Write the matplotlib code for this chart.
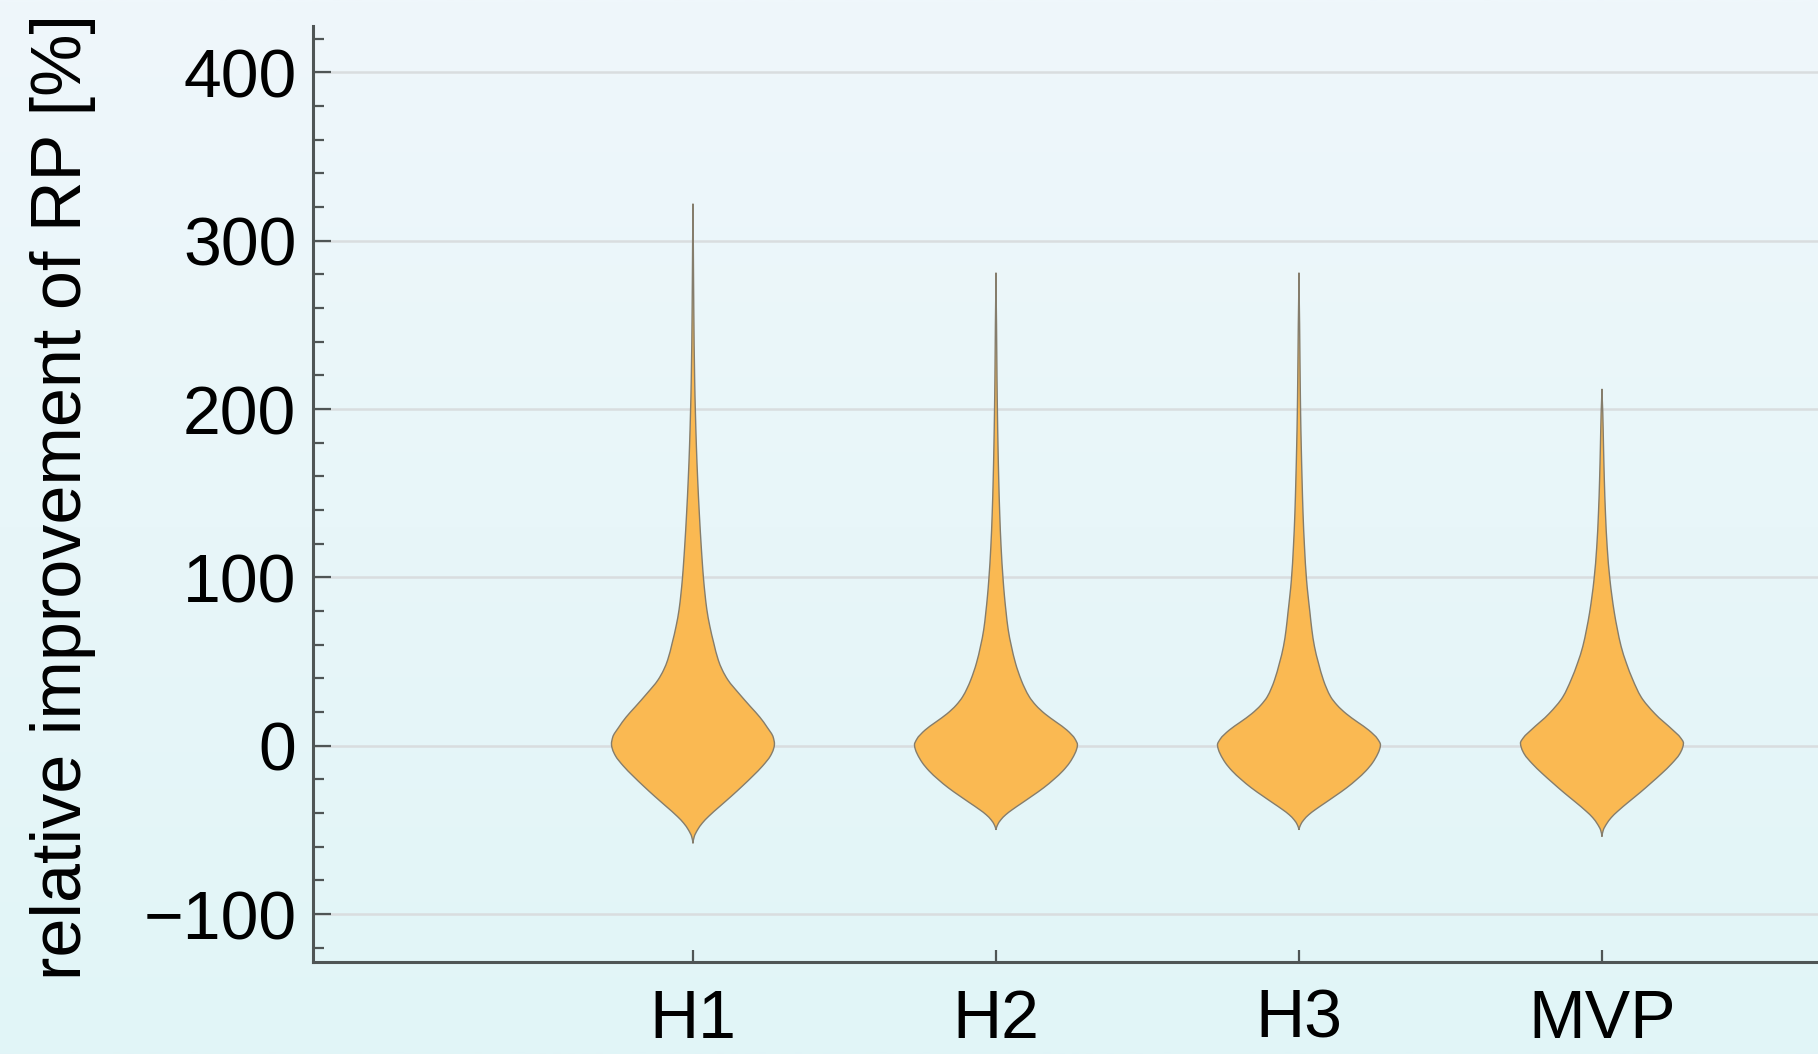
import numpy as np
import matplotlib
matplotlib.use("Agg")
import matplotlib.pyplot as plt
from matplotlib.path import Path
from matplotlib.patches import PathPatch

# Categories and their distribution outlines: y level -> relative half-width (1 = widest)
categories = ["H1", "H2", "H3", "MVP"]

H1_y = [-58, -54, -50, -46, -42, -36, -30, -24, -18, -12, -6, -2, 1, 5, 11, 17, 23, 31, 39, 45, 51,
        61, 71, 81, 90, 99, 110, 118, 138, 158, 178, 198, 217, 260, 300, 322]
H1_w = [0, 0.016, 0.056, 0.114, 0.192, 0.33, 0.471, 0.606, 0.735, 0.855, 0.951, 0.988, 1.0, 0.985, 0.91, 0.82, 0.71, 0.565, 0.43, 0.36, 0.31,
        0.255, 0.207, 0.17, 0.148, 0.13, 0.113, 0.102, 0.078, 0.058, 0.042, 0.03, 0.021, 0.01, 0.004, 0]

H2_y = [-50, -47, -44, -41, -38, -34, -30, -25, -20, -15, -10, -5, -2, 0.5, 4, 9.3, 14, 19, 24, 29, 34, 39,
        49, 59, 69, 79, 89, 98.5, 118, 138, 158, 178, 198, 217, 250, 281]
H2_w = [0, 0.02, 0.06, 0.12, 0.20, 0.32, 0.44, 0.585, 0.71, 0.82, 0.905, 0.965, 0.99, 1.0, 0.97, 0.87, 0.74, 0.60, 0.49, 0.41, 0.355, 0.31,
        0.24, 0.19, 0.15, 0.125, 0.104, 0.088, 0.063, 0.046, 0.034, 0.025, 0.018, 0.013, 0.007, 0]

H3_y = [-50, -47, -44, -41, -38, -34, -30, -25, -20, -15, -10, -5, -2, 0.5, 4, 9.3, 14, 19, 24, 29, 34, 39,
        49, 59, 69, 79, 89, 98.5, 118, 138, 158, 178, 198, 217, 250, 281]
H3_w = [0, 0.02, 0.06, 0.12, 0.20, 0.32, 0.44, 0.585, 0.71, 0.82, 0.905, 0.965, 0.99, 1.0, 0.965, 0.855, 0.72, 0.58, 0.47, 0.39, 0.34, 0.30,
        0.24, 0.19, 0.158, 0.135, 0.112, 0.093, 0.068, 0.05, 0.038, 0.028, 0.02, 0.015, 0.008, 0]

MVP_y = [-54, -50.2, -46.5, -42.7, -39, -33.3, -27.7, -22, -16.4, -10.7, -5.1, -1.3, 1.5, 5, 9.3, 19, 29, 39, 49,
         59, 69, 79, 89, 98.5, 118, 138, 158, 178, 198, 212]
MVP_w = [0, 0.016, 0.056, 0.114, 0.192, 0.33, 0.471, 0.606, 0.735, 0.855, 0.951, 0.988, 1.0, 0.96, 0.87, 0.65, 0.48, 0.38, 0.30,
         0.235, 0.19, 0.152, 0.122, 0.098, 0.064, 0.043, 0.029, 0.019, 0.01, 0]

profiles = [(H1_y, H1_w), (H2_y, H2_w), (H3_y, H3_w), (MVP_y, MVP_w)]

y_major = [-100, 0, 100, 200, 300, 400]
y_minor = list(range(-120, 421, 20))

FILL = "#FAB952"
EDGE = "#857D6C"
MAX_HALF = 0.269

plt.rcParams["font.family"] = ["Liberation Sans", "DejaVu Sans"]

fig = plt.figure(figsize=(18.18, 10.54), dpi=100)

# soft vertical background gradient
bg = fig.add_axes([0, 0, 1, 1], zorder=-5)
top = np.array([239, 247, 251]) / 255
bot = np.array([225, 245, 247]) / 255
t = np.linspace(0, 1, 256)[:, None]
grad = (top[None, :] * (1 - t) + bot[None, :] * t)[:, None, :]
bg.imshow(grad, aspect="auto", extent=[0, 1, 0, 1], interpolation="bilinear")
bg.set_axis_off()

ax = fig.add_axes([313 / 1818, 1 - 962 / 1054, 1 - 313 / 1818, (962 - 26) / 1054])
ax.set_facecolor("none")


def monotone_slopes(x, y):
    """Fritsch-Carlson slopes for a shape-preserving cubic through (x, y)."""
    x = np.asarray(x, float)
    y = np.asarray(y, float)
    h = np.diff(x)
    delta = np.diff(y) / h
    n = len(x)
    d = np.zeros(n)
    for k in range(1, n - 1):
        if delta[k - 1] * delta[k] > 0:
            w1 = 2 * h[k] + h[k - 1]
            w2 = h[k] + 2 * h[k - 1]
            d[k] = (w1 + w2) / (w1 / delta[k - 1] + w2 / delta[k])
    d[0] = delta[0] * 0.5
    d[-1] = delta[-1] * 0.5
    return d


def violin_path(xc, ys, ws, half):
    ys = np.asarray(ys, float)
    ws = np.asarray(ws, float)
    d = monotone_slopes(ys, ws)
    verts = [(xc + ws[0] * half, ys[0])]
    codes = [Path.MOVETO]
    # right side, bottom -> top
    for i in range(len(ys) - 1):
        h = ys[i + 1] - ys[i]
        verts += [(xc + (ws[i] + d[i] * h / 3) * half, ys[i] + h / 3),
                  (xc + (ws[i + 1] - d[i + 1] * h / 3) * half, ys[i + 1] - h / 3),
                  (xc + ws[i + 1] * half, ys[i + 1])]
        codes += [Path.CURVE4] * 3
    # left side, top -> bottom
    for i in range(len(ys) - 2, -1, -1):
        h = ys[i + 1] - ys[i]
        verts += [(xc - (ws[i + 1] - d[i + 1] * h / 3) * half, ys[i + 1] - h / 3),
                  (xc - (ws[i] + d[i] * h / 3) * half, ys[i] + h / 3),
                  (xc - ws[i] * half, ys[i])]
        codes += [Path.CURVE4] * 3
    verts.append(verts[0])
    codes.append(Path.CLOSEPOLY)
    return Path(verts, codes)


for k, (ys, ws) in enumerate(profiles):
    patch = PathPatch(violin_path(k + 1, ys, ws, MAX_HALF), facecolor=FILL,
                      edgecolor=EDGE, linewidth=1.0, zorder=3)
    ax.add_patch(patch)

ax.set_xlim(-0.254, 4.713)
ax.set_ylim(-128.5, 427.6)

ax.set_xticks(range(1, len(categories) + 1))
ax.set_xticklabels(categories)
ax.set_yticks(y_major)
ax.set_yticks(y_minor, minor=True)
ax.set_yticklabels([f"{v}".replace("-", "\u2212") for v in y_major])

ax.yaxis.grid(True, which="major", color="#D9DDDF", linewidth=1.8)
ax.set_axisbelow(True)

for s in ("top", "right"):
    ax.spines[s].set_visible(False)
for s in ("left", "bottom"):
    ax.spines[s].set_color("#4F5555")
    ax.spines[s].set_linewidth(2.2)

ax.tick_params(axis="y", which="major", direction="in", length=13, width=1.6,
               color="#4F5555", labelsize=49, pad=12)
ax.tick_params(axis="y", which="minor", direction="in", length=8, width=1.6,
               color="#4F5555")
ax.tick_params(axis="x", which="major", direction="in", length=9, width=1.6,
               color="#4F5555", labelsize=49, pad=18.5)

ax.set_ylabel("relative improvement of RP [%]", fontsize=50.5)
ax.yaxis.set_label_coords((96 - 313) / (1818 - 313), 0.4968)

fig.savefig("out.png", dpi=100)
